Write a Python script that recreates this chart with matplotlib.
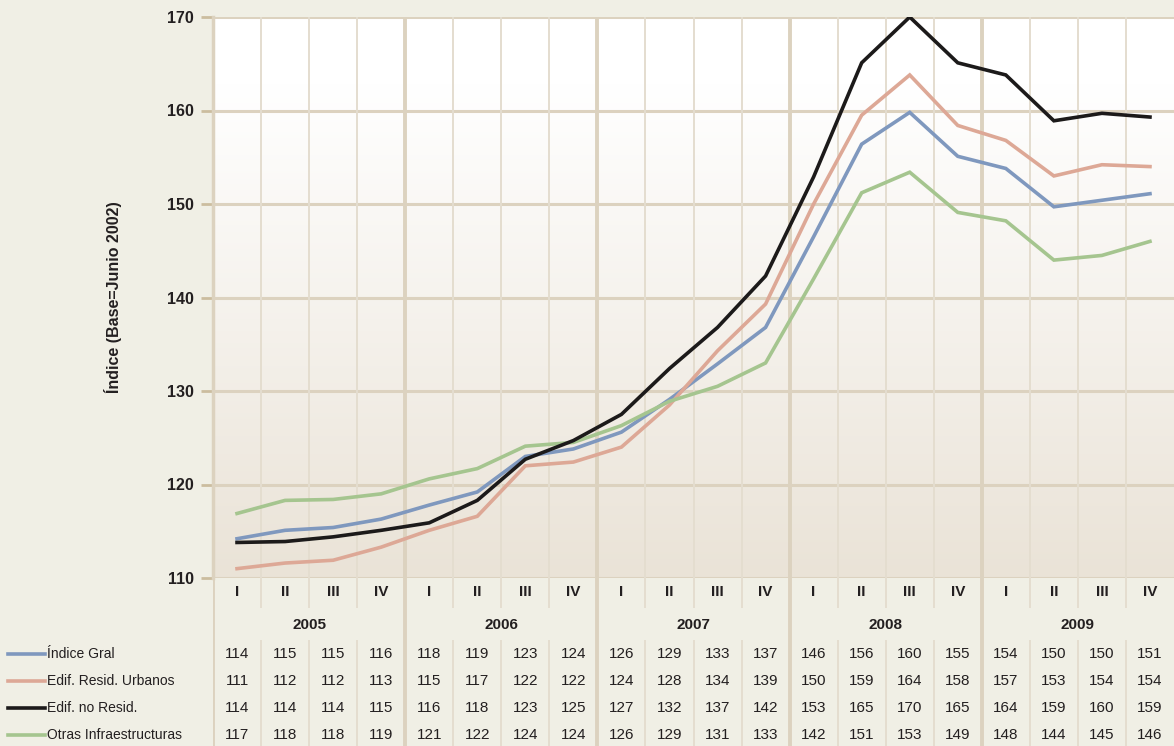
import matplotlib.pyplot as plt
import numpy as np
from matplotlib.lines import Line2D

plt.rcParams['font.family'] = ['Liberation Sans Narrow', 'Liberation Sans', 'DejaVu Sans']

# datos (trimestres 2005-2009)
anios = ['2005', '2006', '2007', '2008', '2009']
trimestres = ['I', 'II', 'III', 'IV']
series = ['Índice Gral', 'Edif. Resid. Urbanos', 'Edif. no Resid.', 'Otras Infraestructuras']
colores = ['#7f98be', '#dda896', '#1c1a1a', '#a5c58f']

indice_gral = [114.2, 115.1, 115.4, 116.3, 117.8, 119.2, 123.0, 123.8, 125.6, 129.1,
               132.9, 136.8, 146.5, 156.4, 159.8, 155.1, 153.8, 149.7, 150.4, 151.1]
resid_urbanos = [111.0, 111.6, 111.9, 113.3, 115.1, 116.6, 122.0, 122.4, 124.0, 128.5,
                 134.3, 139.3, 150.0, 159.5, 163.8, 158.4, 156.8, 153.0, 154.2, 154.0]
no_resid = [113.8, 113.9, 114.4, 115.1, 115.9, 118.3, 122.7, 124.7, 127.5, 132.4,
            136.8, 142.3, 152.9, 165.1, 170.0, 165.1, 163.8, 158.9, 159.7, 159.3]
otras_infra = [116.9, 118.3, 118.4, 119.0, 120.6, 121.7, 124.1, 124.5, 126.3, 128.9,
               130.5, 133.0, 142.0, 151.2, 153.4, 149.1, 148.2, 144.0, 144.5, 146.0]

tabla = [
    [114, 115, 115, 116, 118, 119, 123, 124, 126, 129, 133, 137, 146, 156, 160, 155, 154, 150, 150, 151],
    [111, 112, 112, 113, 115, 117, 122, 122, 124, 128, 134, 139, 150, 159, 164, 158, 157, 153, 154, 154],
    [114, 114, 114, 115, 116, 118, 123, 125, 127, 132, 137, 142, 153, 165, 170, 165, 164, 159, 160, 159],
    [117, 118, 118, 119, 121, 122, 124, 124, 126, 129, 131, 133, 142, 151, 153, 149, 148, 144, 145, 146],
]

fondo = '#f0efe5'
beige = '#dcd2bf'
beige_claro = '#e4ddcf'
texto = '#231f20'

W, H = 1174, 746
fig = plt.figure(figsize=(W / 100, H / 100), dpi=100, facecolor=fondo)

izq, der, arriba, abajo = 213, 1174, 17, 578
ax = fig.add_axes([izq / W, 1 - abajo / H, (der - izq) / W, (abajo - arriba) / H])
ax.set_xlim(0, 20)
ax.set_ylim(110, 170)

# degradado del fondo: blanco arriba, beige abajo
grad = np.linspace(0, 1, 256)
c_top = np.array([1.0, 1.0, 1.0])
c_bot = np.array([234, 227, 215]) / 255
t = np.clip((grad - 0.12) / 0.88, 0, 1).reshape(-1, 1)
img = c_top[None, None, :] * (1 - t)[:, :, None] + c_bot[None, None, :] * t[:, :, None]
ax.imshow(img, extent=[0, 1, 0, 1], transform=ax.transAxes, aspect='auto', origin='upper', zorder=0)

# rejilla
for yv in range(110, 171, 10):
    ax.axhline(yv, color=beige, lw=2.2, zorder=1)
for i in range(1, 20):
    if i % 4 == 0:
        ax.axvline(i, color=beige, lw=2.8, zorder=1)
    else:
        ax.axvline(i, color=beige_claro, lw=1.4, zorder=1)

x = np.arange(20) + 0.5
for vals, c in zip([indice_gral, resid_urbanos, otras_infra, no_resid],
                   [colores[0], colores[1], colores[3], colores[2]]):
    ax.plot(x, vals, color=c, lw=2.6, zorder=3, solid_joinstyle='miter')

for s in ['top', 'right', 'bottom']:
    ax.spines[s].set_visible(False)
ax.spines['left'].set_color(beige)
ax.spines['left'].set_linewidth(2.5)
ax.set_xticks([])
ax.set_yticks(range(110, 171, 10))
ax.tick_params(axis='y', length=9, width=2, color='#cbbd9f', pad=5, labelsize=11.5)
for lab in ax.get_yticklabels():
    lab.set_fontweight('bold')
    lab.set_color(texto)
ax.set_ylabel('Índice (Base=Junio 2002)', fontsize=11.5, fontweight='bold', labelpad=32, color=texto)

# tabla inferior
tax = fig.add_axes([izq / W, 0, (der - izq) / W, (H - abajo) / H])
tax.set_xlim(0, 20)
tax.set_ylim(0, H - abajo)
tax.axis('off')
tax.patch.set_alpha(0)
alto = H - abajo
for i in range(0, 20):
    if i % 4 == 0:
        tax.plot([i, i], [0, alto], color=beige, lw=2.8, solid_capstyle='butt')
    else:
        tax.plot([i, i], [138, alto], color=beige_claro, lw=1.4, solid_capstyle='butt')
        tax.plot([i, i], [0, 106], color=beige_claro, lw=1.4, solid_capstyle='butt')

for i in range(20):
    tax.text(i + 0.5, 746 - 592, trimestres[i % 4], ha='center', va='center',
             fontsize=11, fontweight='bold', color=texto)
for k, a in enumerate(anios):
    tax.text(k * 4 + 2, 746 - 625, a, ha='center', va='center',
             fontsize=11, fontweight='bold', color=texto)

filas_y = [654, 681, 708, 735]
for fila, yy in zip(tabla, filas_y):
    for i, v in enumerate(fila):
        tax.text(i + 0.5, 746 - yy, str(v), ha='center', va='center', fontsize=11, color=texto)

# leyenda a la izquierda
for nombre, c, yy in zip(series, colores, filas_y):
    fig.add_artist(Line2D([8 / W, 45 / W], [1 - yy / H, 1 - yy / H], color=c, lw=2.6))
    fig.text(47 / W, 1 - yy / H, nombre, ha='left', va='center', fontsize=10, color=texto)

plt.savefig('out.png', dpi=100, facecolor=fondo)
